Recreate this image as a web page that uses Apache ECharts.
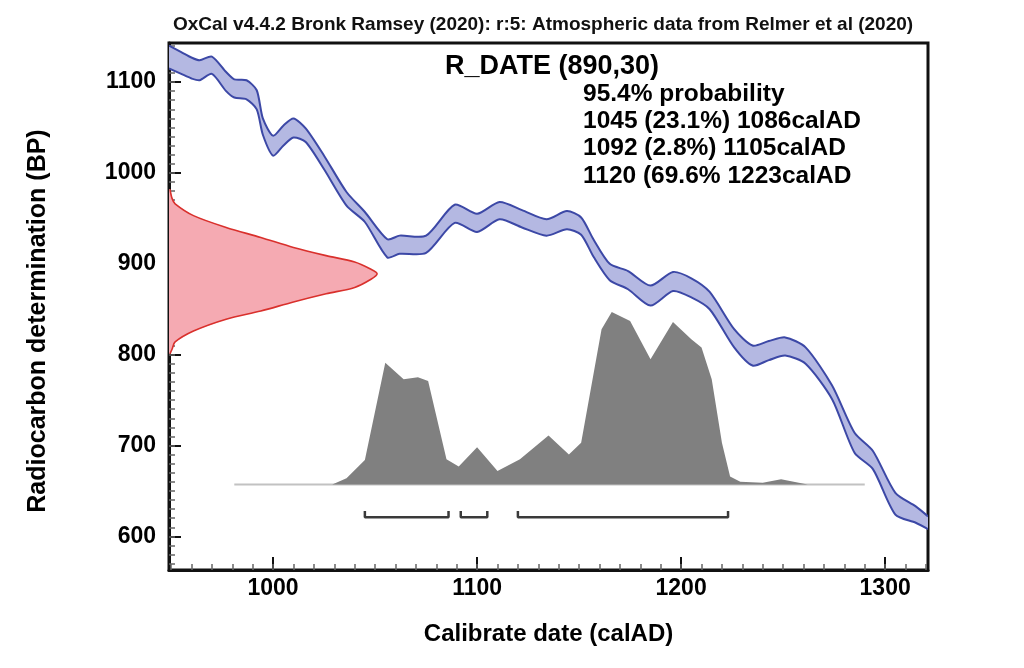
<!DOCTYPE html>
<html>
<head>
<meta charset="utf-8">
<script src="https://cdn.jsdelivr.net/npm/echarts@6/dist/echarts.min.js"></script>
<style>
html, body { margin: 0; padding: 0; background: #fff; }
#chart { width: 1024px; height: 668px; }
</style>
</head>
<body>
<div id="chart"></div>
<script>
// calibration curve (IntCal band)
var calYears = [949, 955, 960, 964, 970, 977, 981, 987, 992, 995, 1000, 1005, 1010, 1016, 1025, 1036, 1045, 1056, 1062, 1075,
    1089, 1100, 1111, 1122, 1134, 1144, 1151, 1157, 1165, 1174, 1185, 1196, 1205, 1214, 1226, 1235, 1243, 1251, 1261, 1274,
    1285, 1294, 1305, 1315, 1321];
var calUpper = [1140, 1133, 1127, 1124, 1128, 1111, 1103, 1102, 1091, 1060, 1041, 1052, 1060, 1049, 1019, 979, 957, 927, 931, 931,
    965, 955, 968, 959, 949, 958, 951, 927, 900, 892, 876, 891, 884, 869, 828, 810, 815, 819, 808, 766,
    714, 694, 648, 633, 622];
var calLower = [1115, 1109, 1104, 1102, 1109, 1090, 1083, 1081, 1070, 1042, 1019, 1030, 1039, 1034, 1004, 964, 946, 907, 911, 912,
    945, 935, 949, 940, 931, 938, 932, 908, 882, 872, 854, 870, 863, 850, 808, 788, 794, 799, 790, 751,
    692, 674, 624, 615, 608];

// R_DATE(890,30) likelihood drawn on the y axis: BP value and how far right it reaches (in calAD units)
var redBP = [982, 972, 966, 953, 940, 929, 918, 909, 902, 894, 889, 883, 874, 867, 858, 848, 839, 826, 814, 806, 801];
var redYear = [949.5, 950.5, 952, 961, 977, 994, 1010, 1026, 1040, 1048, 1051, 1048, 1040, 1026, 1010, 994, 977, 961, 952, 950.5, 949.5];

// calibrated probability distribution
var histBase = 657;
var histYears = [981, 1029, 1036, 1045, 1055, 1064, 1071, 1076, 1085, 1091, 1100, 1110, 1121, 1135, 1145, 1151, 1161, 1166,
    1175, 1185, 1196, 1205, 1210, 1215, 1220, 1224, 1229, 1240, 1249, 1262, 1290];
var histValues = [657, 657, 664, 684, 791, 773, 775, 771, 685, 677, 698, 672, 685, 711, 690, 703, 828, 847,
    837, 795, 836, 817, 808, 773, 703, 666, 660, 659, 663, 657, 657];

// 95.4% ranges
var rangeStart = [1045, 1092, 1120];
var rangeEnd = [1086, 1105, 1223];
var rangeLevel = 621;
var rangeTick = 628;

// axis ticks
var xMajorTicks = [1000, 1100, 1200, 1300];
var yMajorTicks = [600, 700, 800, 900, 1000, 1100];
var xMinorTicks = [];
for (var t = 950; t <= 1320; t += 10) xMinorTicks.push(t);
var yMinorTicks = [];
for (var t = 570; t <= 1140; t += 10) yMinorTicks.push(t);

var titleText = 'OxCal v4.4.2 Bronk Ramsey (2020): r:5: Atmospheric data from Relmer et al (2020)';
var infoLines = ['95.4% probability', '1045 (23.1%) 1086calAD', '1092 (2.8%) 1105calAD', '1120 (69.6% 1223calAD'];

var FONT = '"Liberation Sans", Arial, Helvetica, sans-serif';
var X_MIN = 949, X_MAX = 1321, Y_MIN = 563, Y_MAX = 1143;

var chart = echarts.init(document.getElementById('chart'));

function plain(v) { return String(v); }

var bracketSeries = rangeStart.map(function (s, i) {
    return {
        type: 'line',
        symbol: 'none',
        silent: true,
        lineStyle: { color: '#3a3a3a', width: 2.5 },
        data: [[s, rangeTick], [s, rangeLevel], [rangeEnd[i], rangeLevel], [rangeEnd[i], rangeTick]],
        z: 3
    };
});

var option = {
    animation: false,
    backgroundColor: '#fff',
    grid: {
        left: 169, right: 96, top: 43, bottom: 98,
        show: true, borderColor: '#111', borderWidth: 3,
        containLabel: false, outerBoundsMode: 'none'
    },
    xAxis: [{
        type: 'value', min: X_MIN, max: X_MAX, position: 'bottom',
        name: 'Calibrate date (calAD)', nameLocation: 'middle', nameGap: 52,
        nameTextStyle: { color: '#000', fontSize: 24, fontWeight: 'bold', fontFamily: FONT },
        axisLine: { lineStyle: { color: '#111', width: 3 } },
        axisTick: { inside: true, length: 13, customValues: xMajorTicks, lineStyle: { color: '#111', width: 2 } },
        axisLabel: { customValues: xMajorTicks, formatter: plain, color: '#000', fontSize: 23, fontWeight: 'bold', fontFamily: FONT, margin: 7 },
        splitLine: { show: false }
    }, {
        type: 'value', min: X_MIN, max: X_MAX, position: 'bottom',
        axisLine: { show: false },
        axisTick: { inside: true, length: 6, customValues: xMinorTicks, lineStyle: { color: '#666', width: 1.5 } },
        axisLabel: { show: false },
        splitLine: { show: false }
    }],
    yAxis: [{
        type: 'value', min: Y_MIN, max: Y_MAX, position: 'left',
        axisLine: { show: true, lineStyle: { color: '#111', width: 3 } },
        axisTick: { show: true, inside: true, length: 12, customValues: yMajorTicks, lineStyle: { color: '#111', width: 2 } },
        axisLabel: { customValues: yMajorTicks, formatter: plain, color: '#000', fontSize: 23, fontWeight: 'bold', fontFamily: FONT, margin: 13 },
        splitLine: { show: false }
    }, {
        type: 'value', min: Y_MIN, max: Y_MAX, position: 'left',
        axisLine: { show: false },
        axisTick: { show: true, inside: true, length: 6, customValues: yMinorTicks, lineStyle: { color: '#666', width: 1.5 } },
        axisLabel: { show: false },
        splitLine: { show: false }
    }],
    graphic: [{
        type: 'text', x: 543, y: 25, z: 10,
        style: { text: titleText, align: 'center', verticalAlign: 'middle', fill: '#111', font: 'bold 19px ' + FONT }
    }, {
        // y axis title, sits a little below the middle of the axis in the original
        type: 'text', x: 38, y: 321, rotation: Math.PI / 2, z: 10,
        style: { text: 'Radiocarbon determination (BP)', align: 'center', verticalAlign: 'middle', fill: '#000', font: 'bold 25px ' + FONT }
    }, {
        type: 'text', x: 445, y: 67, z: 10,
        style: { text: 'R_DATE (890,30)', align: 'left', verticalAlign: 'middle', fill: '#000', font: 'bold 27px ' + FONT }
    }].concat(infoLines.map(function (txt, i) {
        return {
            type: 'text', x: 583, y: 94 + i * 27.3, z: 10,
            style: { text: txt, align: 'left', verticalAlign: 'middle', fill: '#000', font: 'bold 24.5px ' + FONT }
        };
    })),
    series: [{
        // thin tail line under the distribution
        type: 'line', symbol: 'none', silent: true,
        lineStyle: { color: '#c2c2c2', width: 2 },
        data: [[histYears[0], histBase], [histYears[histYears.length - 1], histBase]],
        z: 1
    }, {
        type: 'line', symbol: 'none', silent: true,
        lineStyle: { width: 0 },
        areaStyle: { color: '#808080', opacity: 1, origin: histBase },
        data: histYears.map(function (x, i) { return [x, histValues[i]]; }),
        z: 2
    }, {
        type: 'custom', silent: true, clip: true,
        data: [[X_MIN, 890]],
        renderItem: function (params, api) {
            var curve = redYear.map(function (x, i) { return api.coord([x, redBP[i]]); });
            var poly = [api.coord([X_MIN, redBP[0]])].concat(curve, [api.coord([X_MIN, redBP[redBP.length - 1]])]);
            return {
                type: 'group',
                children: [{
                    type: 'polygon', shape: { points: poly }, style: { fill: '#f5aab2' }
                }, {
                    type: 'polyline', shape: { points: curve, smooth: 0.3 },
                    style: { stroke: '#d9302c', lineWidth: 1.6, fill: null }
                }]
            };
        },
        z: 2
    }].concat(bracketSeries, [{
        // calibration band: fill between upper and lower, both edges outlined
        type: 'custom', silent: true, clip: true,
        data: [[X_MIN, calLower[0]]],
        renderItem: function (params, api) {
            var up = calYears.map(function (x, i) { return api.coord([x, calUpper[i]]); });
            var low = calYears.map(function (x, i) { return api.coord([x, calLower[i]]); });
            return {
                type: 'group',
                children: [{
                    type: 'polygon', shape: { points: up.concat(low.slice().reverse()), smooth: 0.25 },
                    style: { fill: '#b4b8e2' }
                }, {
                    type: 'polyline', shape: { points: up, smooth: 0.25 },
                    style: { stroke: '#3c48a6', lineWidth: 2, fill: null }
                }, {
                    type: 'polyline', shape: { points: low, smooth: 0.25 },
                    style: { stroke: '#3c48a6', lineWidth: 2, fill: null }
                }]
            };
        },
        z: 4
    }])
};

chart.setOption(option);
</script>
</body>
</html>
